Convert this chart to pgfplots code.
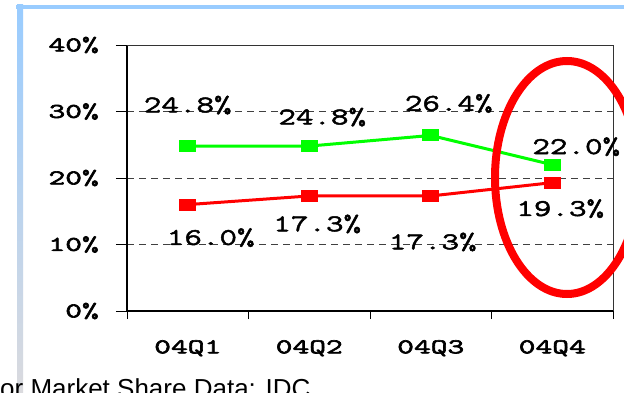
\documentclass[border=0pt]{standalone}
\usepackage{pgfplots}
\pgfplotsset{compat=1.18}
\usepackage{pgfplotstable}
\usepackage{fontspec}
\setmainfont{Liberation Sans}
\newfontfamily\tickmono[FakeStretch=1.55, FakeBold=3]{Latin Modern Mono}
\newfontfamily\labelmono[FakeStretch=1.42, FakeBold=2]{Latin Modern Mono}

\definecolor{lineGreen}{RGB}{0,255,0}
\definecolor{lineRed}{RGB}{255,0,0}
\definecolor{frameBlue}{RGB}{153,204,255}
\definecolor{frameGrey}{RGB}{218,218,222}

% quarter, share (%), label offset (pt)
\pgfplotstableread{
x y dx dy
1 24.8 0 41
2 24.8 13 29
3 26.4 18 32
4 22.0 24 18
}\greenshare
\pgfplotstableread{
x y dx dy
1 16.0 23 -33
2 17.3 8 -28
3 17.3 2 -46
4 19.3 8 -26
}\redshare

\begin{document}
\begin{tikzpicture}[x=1pt,y=1pt]
\useasboundingbox (0,0) rectangle (624,392);
\begin{scope}
\clip (0,0) rectangle (624,392);
\fill[white] (0,0) rectangle (624,392);
% slide frame
\fill[frameBlue] (16,383) rectangle (624,387);
\shade[top color=frameBlue, bottom color=frameGrey] (17,0) rectangle (23,387);

\begin{axis}[
  at={(127pt,81pt)}, anchor=south west,
  width=486pt, height=266pt, scale only axis,
  xmin=0.5, xmax=4.5, ymin=0, ymax=40,
  axis lines*=left,
  axis line style={black, line width=2pt},
  clip=false,
  tick align=outside,
  xtick={1,2,3,4},
  xticklabels={04Q1,04Q2,04Q3,04Q4},
  minor xtick={0.5,1.5,2.5,3.5,4.5},
  major x tick style={draw=none},
  minor x tick style={black, line width=1pt},
  minor tick length=8pt,
  ytick={0,10,20,30,40},
  major y tick style={black, line width=1pt},
  major tick length=11pt,
  ymajorgrids,
  grid style={black!75, line width=1pt, dash pattern=on 7pt off 5pt},
  /pgf/number format/assume math mode=true,
  yticklabel={\pgfmathprintnumber{\tick}\%},
  yticklabel style={font=\tickmono\fontsize{21}{24}\selectfont,
    anchor=east, inner sep=0pt, xshift=-17pt},
  xticklabel style={font=\tickmono\fontsize{21}{24}\selectfont,
    anchor=north, inner sep=0pt, yshift=-18pt},
  point meta=y,
  nodes near coords={\pgfmathprintnumber[fixed,fixed zerofill,precision=1]{\pgfplotspointmeta}\%},
  visualization depends on={\thisrow{dx} \as \dx},
  visualization depends on={\thisrow{dy} \as \dy},
  every node near coord/.append style={
    font=\labelmono\fontsize{24}{28}\selectfont,
    text=black, anchor=center, inner sep=1pt,
    xshift=\dx pt, yshift=\dy pt},
]
\addplot[lineGreen, line width=3pt, mark=square*, mark size=4.5pt,
  mark options={fill=lineGreen, draw=none, xscale=1.55}]
  table[x=x, y=y] {\greenshare};
\addplot[lineRed, line width=3pt, mark=square*, mark size=4.5pt,
  mark options={fill=lineRed, draw=none, xscale=1.55}]
  table[x=x, y=y] {\redshare};
% frame on top and right
\draw[black!80, line width=1pt] (rel axis cs:0,1) -- (rel axis cs:1,1) -- (rel axis cs:1,0);
\end{axis}

% highlight ring around the latest quarter
\draw[lineRed, line width=8pt] (567,214.5) ellipse [x radius=72, y radius=116.5];

\node[anchor=base west, inner sep=0pt, font=\fontsize{26}{30}\selectfont] at (0,-5) {or Market Share Data: IDC};
\end{scope}
\end{tikzpicture}
\end{document}
